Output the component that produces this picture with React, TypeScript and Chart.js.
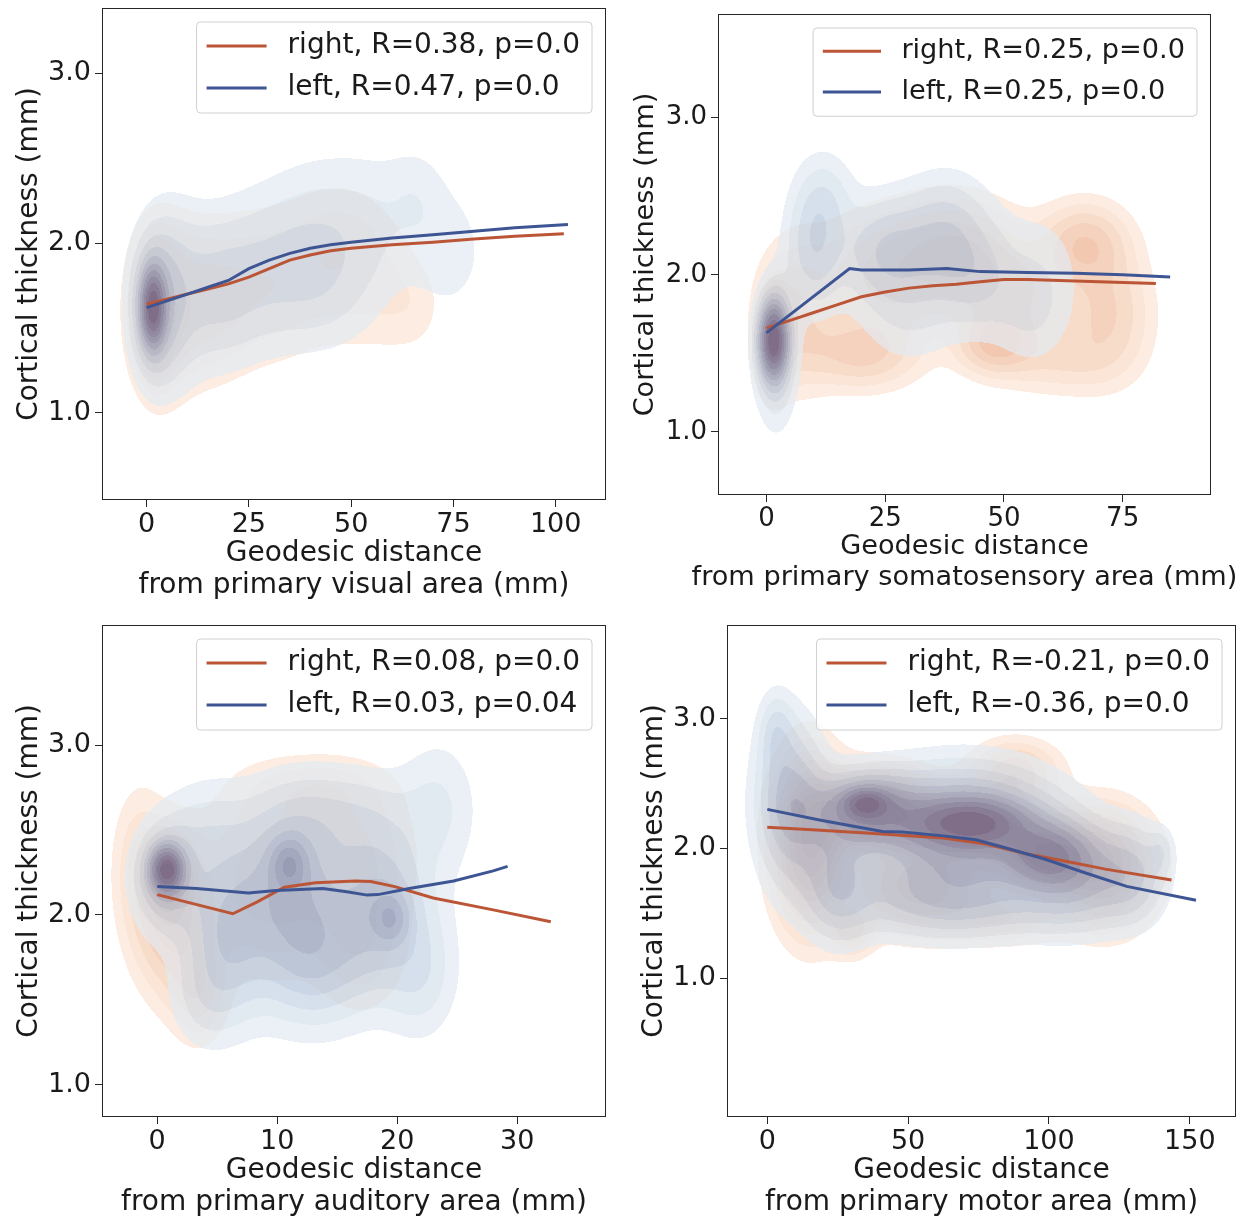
import React, { useEffect, useRef } from 'react';
import { Chart, registerables } from 'chart.js';
Chart.register(...registerables);

const FONT = 'DejaVu Sans';
const TEXT = '#1a1a1a';
const ORANGE = '#bb5536';
const BLUE = '#3e5594';

const Y_TICKS = [1, 2, 3];
const Y_TITLE = 'Cortical thickness (mm)';
const X_TITLE_TOP = 'Geodesic distance';

// ---------- Panel 1: visual ----------
const VIS_XTICKS = [0, 25, 50, 75, 100];
const VIS_TITLE = 'from primary visual area (mm)';
const VIS_LEGEND = ['right, R=0.38, p=0.0', 'left, R=0.47, p=0.0'];
const VIS_RIGHT = [[0, 1.64], [5, 1.67], [10, 1.70], [15, 1.73], [20, 1.76], [25, 1.80], [30, 1.85], [35, 1.90], [40, 1.93], [45, 1.955], [50, 1.97], [55, 1.98], [60, 1.99], [70, 2.005], [80, 2.025], [90, 2.04], [102, 2.055]];
const VIS_LEFT = [[0, 1.62], [5, 1.66], [10, 1.70], [15, 1.74], [20, 1.78], [25, 1.85], [30, 1.90], [35, 1.94], [40, 1.97], [45, 1.99], [50, 2.005], [60, 2.03], [70, 2.05], [80, 2.07], [90, 2.09], [103, 2.11]];
// kde components: [x, y, sx, sy, weight]
const VIS_RIGHT_KDE = [[1.5, 1.62, 2.0, 0.16, 0.9], [2, 1.6, 4, 0.28, 0.35], [5, 1.62, 6, 0.35, 0.2], [16, 1.65, 7, 0.3, 0.22], [30, 1.75, 8, 0.3, 0.18], [45, 1.85, 8, 0.3, 0.15], [58, 1.72, 7, 0.25, 0.11], [50, 2.05, 8, 0.2, 0.07], [66, 1.62, 5, 0.18, 0.07]];
const VIS_LEFT_KDE = [[1.5, 1.62, 2.0, 0.15, 1.0], [2, 1.62, 4, 0.27, 0.35], [6, 1.7, 6, 0.37, 0.22], [18, 1.72, 7, 0.3, 0.22], [30, 1.85, 8, 0.32, 0.18], [42, 2.0, 8, 0.32, 0.17], [55, 2.1, 8, 0.3, 0.13], [66, 2.3, 5, 0.2, 0.08], [74, 1.95, 7, 0.28, 0.11], [45, 1.65, 9, 0.22, 0.08]];

// ---------- Panel 2: somatosensory ----------
const SOM_XTICKS = [0, 25, 50, 75];
const SOM_TITLE = 'from primary somatosensory area (mm)';
const SOM_LEGEND = ['right, R=0.25, p=0.0', 'left, R=0.25, p=0.0'];
const SOM_RIGHT = [[0, 1.66], [5, 1.71], [10, 1.76], [15, 1.81], [20, 1.86], [25, 1.89], [30, 1.915], [35, 1.93], [40, 1.94], [45, 1.955], [50, 1.97], [55, 1.97], [60, 1.965], [70, 1.955], [82, 1.945]];
const SOM_LEFT = [[0, 1.63], [17.5, 2.04], [20, 2.03], [30, 2.03], [38, 2.04], [45, 2.02], [55, 2.015], [65, 2.01], [75, 2.0], [85, 1.985]];
const SOM_RIGHT_KDE = [[1.5, 1.6, 2.0, 0.18, 0.8], [6, 1.75, 5, 0.3, 0.2], [20, 1.5, 8, 0.15, 0.23], [25, 2.0, 9, 0.25, 0.23], [40, 2.15, 8, 0.22, 0.26], [48, 1.55, 5, 0.12, 0.24], [52, 1.85, 8, 0.25, 0.21], [67, 2.2, 6, 0.17, 0.26], [72, 1.75, 6, 0.26, 0.21], [62, 1.45, 8, 0.14, 0.12]];
const SOM_LEFT_KDE = [[1.5, 1.58, 2.0, 0.16, 1.0], [2, 1.5, 3, 0.3, 0.25], [10, 2.2, 4, 0.28, 0.25], [13, 2.5, 4, 0.2, 0.1], [25, 2.15, 6, 0.22, 0.22], [38, 2.25, 6, 0.25, 0.2], [45, 1.95, 5, 0.22, 0.12], [30, 1.7, 7, 0.22, 0.08], [35, 2.1, 12, 0.3, 0.1], [58, 1.95, 6, 0.3, 0.1], [55, 1.7, 5, 0.2, 0.06]];

// ---------- Panel 3: auditory ----------
const AUD_XTICKS = [0, 10, 20, 30];
const AUD_TITLE = 'from primary auditory area (mm)';
const AUD_LEGEND = ['right, R=0.08, p=0.0', 'left, R=0.03, p=0.04'];
const AUD_RIGHT = [[0, 2.12], [6.3, 2.007], [8.3, 2.076], [10.6, 2.163], [13.2, 2.19], [16.5, 2.2], [17.8, 2.197], [19.8, 2.167], [23, 2.10], [28, 2.03], [32.8, 1.96]];
const AUD_LEFT = [[0, 2.167], [3.3, 2.156], [7.6, 2.13], [9.9, 2.144], [13.8, 2.156], [15.8, 2.137], [17.5, 2.117], [18.4, 2.12], [21, 2.156], [24.7, 2.2], [28, 2.26], [29.2, 2.286]];
const AUD_RIGHT_KDE = [[0.8, 2.24, 1.1, 0.12, 0.8], [1.2, 2.0, 2.0, 0.3, 0.4], [3.5, 1.55, 1.5, 0.2, 0.2], [9, 2.2, 3.5, 0.35, 0.22], [16, 2.35, 3.5, 0.3, 0.2], [17, 1.8, 2.5, 0.25, 0.15], [13, 2.75, 4, 0.12, 0.1], [-1.5, 2.3, 1.5, 0.3, 0.15]];
const AUD_LEFT_KDE = [[0.8, 2.27, 0.9, 0.09, 1.0], [0.8, 2.22, 1.8, 0.2, 0.35], [11, 2.3, 1.0, 0.1, 0.4], [11, 2.2, 2.5, 0.28, 0.35], [19.5, 1.98, 1.0, 0.1, 0.3], [18.5, 2.05, 2.5, 0.3, 0.35], [6, 1.9, 2.2, 0.3, 0.35], [13, 1.75, 3, 0.25, 0.35], [12, 2.1, 7, 0.45, 0.15], [22, 1.65, 2, 0.25, 0.17], [23.5, 2.65, 2.2, 0.27, 0.13], [15, 2.6, 4, 0.18, 0.14], [4, 2.5, 2.5, 0.2, 0.12], [4, 1.5, 2, 0.2, 0.12]];

// ---------- Panel 4: motor ----------
const MOT_XTICKS = [0, 50, 100, 150];
const MOT_TITLE = 'from primary motor area (mm)';
const MOT_LEGEND = ['right, R=-0.21, p=0.0', 'left, R=-0.36, p=0.0'];
const MOT_RIGHT = [[0, 2.162], [19, 2.14], [40.8, 2.11], [62.5, 2.08], [77, 2.036], [91.4, 1.96], [106, 1.90], [120, 1.84], [143.5, 1.757]];
const MOT_LEFT = [[0, 2.30], [19, 2.216], [40.8, 2.13], [48, 2.126], [62.5, 2.096], [74, 2.066], [84.2, 2.006], [98.7, 1.916], [113, 1.81], [127.6, 1.707], [152.2, 1.60]];
const MOT_RIGHT_KDE = [[38, 2.3, 12, 0.18, 0.5], [72, 2.2, 15, 0.16, 0.5], [100, 1.95, 12, 0.18, 0.42], [15, 2.05, 8, 0.4, 0.4], [55, 1.7, 16, 0.22, 0.25], [88, 2.6, 10, 0.15, 0.15], [120, 1.85, 11, 0.28, 0.28], [30, 1.35, 5, 0.12, 0.12], [85, 1.45, 14, 0.12, 0.1]];
const MOT_LEFT_KDE = [[35, 2.35, 5, 0.07, 0.45], [35, 2.3, 12, 0.18, 0.55], [72, 2.2, 13, 0.12, 0.55], [70, 2.15, 22, 0.3, 0.6], [100, 1.95, 10, 0.16, 0.45], [110, 1.75, 13, 0.25, 0.3], [8, 2.35, 8, 0.4, 0.4], [3, 2.9, 4, 0.2, 0.15], [25, 1.75, 8, 0.3, 0.28], [65, 1.6, 25, 0.2, 0.3], [130, 1.8, 8, 0.25, 0.22], [140, 1.98, 3, 0.12, 0.1]];

// density level thresholds (fraction of max), colour ramps and layer opacity
const LEVELS = [0.05, 0.1, 0.16, 0.23, 0.31, 0.4, 0.5, 0.61, 0.73, 0.86];
const ORANGE_RAMP = ['#fbe6d8', '#f9dcc9', '#f6d0b9', '#f2c3a7', '#edb596', '#e7a684', '#df9773', '#d48764', '#c87858', '#bb6b4e'];
const BLUE_RAMP = ['#e2eaf2', '#d4dfeb', '#c4d3e4', '#b3c5dc', '#a1b6d2', '#90a3c6', '#8092b9', '#7280ab', '#686f9d', '#5f5f90'];
const ORANGE_ALPHA = 0.75;
const BLUE_ALPHA = 0.7;

function hexRgb(h: string) {
  return [parseInt(h.slice(1, 3), 16), parseInt(h.slice(3, 5), 16), parseInt(h.slice(5, 7), 16)];
}

type PanelCfg = {
  left: number; top: number; width: number; height: number;
  padTop: number; padRight: number; yAxisW: number; xAxisH: number;
  xMin: number; xMax: number; yMin: number; yMax: number;
  xTicks: number[]; title: string; legend: string[];
  right: number[][]; leftS: number[][]; rightKde: number[][]; leftKde: number[][];
  fs: number;
};

const PANELS: PanelCfg[] = [
  { left: 0, top: 0, width: 620, height: 612, padTop: 8, padRight: 14, yAxisW: 102, xAxisH: 112,
    xMin: -10.9, xMax: 112.3, yMin: 0.487, yMax: 3.385, xTicks: VIS_XTICKS, title: VIS_TITLE, legend: VIS_LEGEND,
    right: VIS_RIGHT, leftS: VIS_LEFT, rightKde: VIS_RIGHT_KDE, leftKde: VIS_LEFT_KDE, fs: 1 },
  { left: 620, top: 0, width: 635, height: 612, padTop: 14, padRight: 44, yAxisW: 98, xAxisH: 117,
    xMin: -10.2, xMax: 93.6, yMin: 0.598, yMax: 3.66, xTicks: SOM_XTICKS, title: SOM_TITLE, legend: SOM_LEGEND,
    right: SOM_RIGHT, leftS: SOM_LEFT, rightKde: SOM_RIGHT_KDE, leftKde: SOM_LEFT_KDE, fs: 0.97 },
  { left: 0, top: 612, width: 620, height: 608, padTop: 13, padRight: 14, yAxisW: 102, xAxisH: 103,
    xMin: -4.6, xMax: 37.4, yMin: 0.81, yMax: 3.708, xTicks: AUD_XTICKS, title: AUD_TITLE, legend: AUD_LEGEND,
    right: AUD_RIGHT, leftS: AUD_LEFT, rightKde: AUD_RIGHT_KDE, leftKde: AUD_LEFT_KDE, fs: 1 },
  { left: 620, top: 612, width: 635, height: 608, padTop: 13, padRight: 19, yAxisW: 107, xAxisH: 103,
    xMin: -14.3, xMax: 166.4, yMin: -0.069, yMax: 3.72, xTicks: MOT_XTICKS, title: MOT_TITLE, legend: MOT_LEGEND,
    right: MOT_RIGHT, leftS: MOT_LEFT, rightKde: MOT_RIGHT_KDE, leftKde: MOT_LEFT_KDE, fs: 1 },
];

function buildDensity(chart: any, layers: { comps: number[][]; ramp: string[]; alpha: number }[]) {
  const a = chart.chartArea;
  const xs = chart.scales.x, ys = chart.scales.y;
  const x0 = Math.round(a.left), y0 = Math.round(a.top);
  const w = Math.round(a.right) - x0, h = Math.round(a.bottom) - y0;
  const off = document.createElement('canvas');
  off.width = w; off.height = h;
  const octx = off.getContext('2d')!;
  const img = octx.createImageData(w, h);
  const buf = new Float32Array(w * h * 3).fill(255);
  const vx = new Float64Array(w), vy = new Float64Array(h);
  for (let i = 0; i < w; i++) vx[i] = xs.getValueForPixel(x0 + i + 0.5);
  for (let j = 0; j < h; j++) vy[j] = ys.getValueForPixel(y0 + j + 0.5);
  for (const layer of layers) {
    const d = new Float32Array(w * h);
    const ramp = layer.ramp.map(hexRgb);
    const A = layer.alpha;
    for (const [cx, cy, sx, sy, wt] of layer.comps) {
      const ex = new Float32Array(w);
      for (let i = 0; i < w; i++) { const t = (vx[i] - cx) / sx; ex[i] = Math.exp(-0.5 * t * t); }
      for (let j = 0; j < h; j++) {
        const t = (vy[j] - cy) / sy;
        const e = wt * Math.exp(-0.5 * t * t);
        if (e < 1e-5) continue;
        const row = j * w;
        for (let i = 0; i < w; i++) d[row + i] += e * ex[i];
      }
    }
    let max = 0;
    for (let k = 0; k < d.length; k++) if (d[k] > max) max = d[k];
    for (let k = 0; k < d.length; k++) {
      const r = d[k] / max;
      let lv = -1;
      for (let L = LEVELS.length - 1; L >= 0; L--) { if (r >= LEVELS[L]) { lv = L; break; } }
      if (lv >= 0) {
        const c = ramp[lv];
        buf[k * 3] = buf[k * 3] * (1 - A) + c[0] * A;
        buf[k * 3 + 1] = buf[k * 3 + 1] * (1 - A) + c[1] * A;
        buf[k * 3 + 2] = buf[k * 3 + 2] * (1 - A) + c[2] * A;
      }
    }
  }
  for (let k = 0; k < w * h; k++) {
    img.data[k * 4] = buf[k * 3]; img.data[k * 4 + 1] = buf[k * 3 + 1]; img.data[k * 4 + 2] = buf[k * 3 + 2]; img.data[k * 4 + 3] = 255;
  }
  octx.putImageData(img, 0, 0);
  return { canvas: off, x0, y0, key: `${x0},${y0},${w},${h}` };
}

function Panel({ cfg }: { cfg: PanelCfg }) {
  const ref = useRef<HTMLCanvasElement>(null);
  useEffect(() => {
    const canvas = ref.current!;
    let cache: any = null;
    const fs = cfg.fs;
    const densityPlugin = {
      id: 'density',
      beforeDatasetsDraw(chart: any) {
        const a = chart.chartArea;
        const key = `${Math.round(a.left)},${Math.round(a.top)},${Math.round(a.right) - Math.round(a.left)},${Math.round(a.bottom) - Math.round(a.top)}`;
        if (!cache || cache.key !== key) {
          cache = buildDensity(chart, [
            { comps: cfg.rightKde, ramp: ORANGE_RAMP, alpha: ORANGE_ALPHA },
            { comps: cfg.leftKde, ramp: BLUE_RAMP, alpha: BLUE_ALPHA },
          ]);
        }
        chart.ctx.drawImage(cache.canvas, cache.x0, cache.y0);
      },
    };
    const decorPlugin = {
      id: 'decor',
      afterDraw(chart: any) {
        const ctx = chart.ctx;
        const a = chart.chartArea;
        ctx.save();
        ctx.strokeStyle = '#262626';
        ctx.lineWidth = 1;
        ctx.strokeRect(Math.round(a.left) + 0.5, Math.round(a.top) + 0.5, Math.round(a.right - a.left) - 1, Math.round(a.bottom - a.top) - 1);
        ctx.fillStyle = TEXT;
        ctx.font = `${28 * fs}px "${FONT}"`;
        ctx.textAlign = 'center';
        ctx.textBaseline = 'middle';
        const cx = (a.left + a.right) / 2;
        ctx.fillText(X_TITLE_TOP, cx, a.bottom + 54 * fs);
        ctx.fillText(cfg.title, cx, a.bottom + 86 * fs);
        ctx.save();
        ctx.translate(a.left - 72, (a.top + a.bottom) / 2);
        ctx.rotate(-Math.PI / 2);
        ctx.fillText(Y_TITLE, 0, 0);
        ctx.restore();
        const ds = chart.data.datasets;
        let tw = 0;
        for (const d of ds) tw = Math.max(tw, ctx.measureText(d.label).width);
        const boxW = 91 * fs + tw + 12;
        const boxH = 91 * fs;
        const bx = a.right - 14 - boxW, by = a.top + 14;
        ctx.beginPath();
        const r = 4;
        ctx.moveTo(bx + r, by);
        ctx.arcTo(bx + boxW, by, bx + boxW, by + boxH, r);
        ctx.arcTo(bx + boxW, by + boxH, bx, by + boxH, r);
        ctx.arcTo(bx, by + boxH, bx, by, r);
        ctx.arcTo(bx, by, bx + boxW, by, r);
        ctx.closePath();
        ctx.fillStyle = 'rgba(255,255,255,0.8)';
        ctx.fill();
        ctx.strokeStyle = '#d0d0d0';
        ctx.lineWidth = 1;
        ctx.stroke();
        ds.forEach((d: any, i: number) => {
          const yy = by + (24 + 42 * i) * fs;
          ctx.strokeStyle = d.borderColor;
          ctx.lineWidth = 3;
          ctx.beginPath();
          ctx.moveTo(bx + 10 * fs, yy);
          ctx.lineTo(bx + 70 * fs, yy);
          ctx.stroke();
          ctx.fillStyle = TEXT;
          ctx.textAlign = 'left';
          ctx.fillText(d.label, bx + 91 * fs, yy);
        });
        ctx.restore();
      },
    };
    const tickFont = { family: FONT, size: Math.round(27 * fs) };
    const chart = new Chart(canvas, {
      type: 'line',
      data: {
        datasets: [
          { label: cfg.legend[0], data: cfg.right.map(([x, y]) => ({ x, y })), borderColor: ORANGE, borderWidth: 3, pointRadius: 0, tension: 0, order: 1, fill: false },
          { label: cfg.legend[1], data: cfg.leftS.map(([x, y]) => ({ x, y })), borderColor: BLUE, borderWidth: 3, pointRadius: 0, tension: 0, order: 0, fill: false },
        ],
      },
      options: {
        animation: false,
        responsive: false,
        devicePixelRatio: 1,
        events: [],
        layout: { padding: { left: 0, top: cfg.padTop, right: cfg.padRight, bottom: 0 } },
        plugins: { legend: { display: false }, tooltip: { enabled: false }, title: { display: false } },
        scales: {
          x: {
            type: 'linear', min: cfg.xMin, max: cfg.xMax,
            border: { display: false },
            grid: { drawOnChartArea: false, drawTicks: true, tickLength: 7, color: '#262626', lineWidth: 1 },
            ticks: { font: tickFont, color: TEXT, padding: 2, maxRotation: 0, autoSkip: false, callback: (v: any) => String(v) },
            afterBuildTicks: (ax: any) => { ax.ticks = cfg.xTicks.map((v) => ({ value: v })); },
            afterFit: (ax: any) => { ax.height = cfg.xAxisH; ax.paddingLeft = 0; ax.paddingRight = 0; },
          },
          y: {
            type: 'linear', min: cfg.yMin, max: cfg.yMax,
            border: { display: false },
            grid: { drawOnChartArea: false, drawTicks: true, tickLength: 7, color: '#262626', lineWidth: 1 },
            ticks: { font: tickFont, color: TEXT, padding: 4, autoSkip: false, callback: (v: any) => Number(v).toFixed(1) },
            afterBuildTicks: (ax: any) => { ax.ticks = Y_TICKS.map((v) => ({ value: v })); },
            afterFit: (ax: any) => { ax.width = cfg.yAxisW; ax.paddingTop = 0; ax.paddingBottom = 0; },
          },
        },
      } as any,
      plugins: [densityPlugin, decorPlugin],
    });
    return () => chart.destroy();
  }, [cfg]);
  return (
    <div style={{ position: 'absolute', left: cfg.left, top: cfg.top, width: cfg.width, height: cfg.height }}>
      <canvas ref={ref} width={cfg.width} height={cfg.height} style={{ width: cfg.width, height: cfg.height, display: 'block' }} />
    </div>
  );
}

export default function App() {
  return (
    <div style={{ position: 'absolute', left: 0, top: 0, width: 1255, height: 1220, background: '#fff', overflow: 'hidden' }}>
      {PANELS.map((p, i) => <Panel key={i} cfg={p} />)}
    </div>
  );
}
